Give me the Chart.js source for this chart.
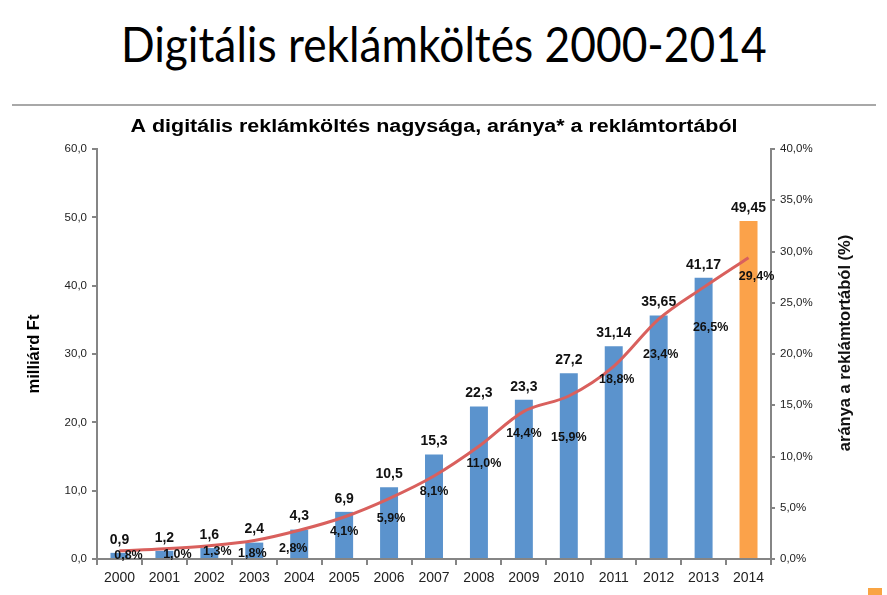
<!DOCTYPE html>
<html>
<head>
<meta charset="utf-8">
<script src="https://cdn.jsdelivr.net/npm/chart.js@4.4.1/dist/chart.umd.min.js"></script>
<style>
  html, body { margin: 0; padding: 0; background: #fff; }
  body { width: 887px; height: 595px; position: relative; overflow: hidden; }
  #page-title { position: absolute; left: 0; top: 14px; width: 887px; margin: 0; text-align: center;
    font-family: Lato, "Noto Sans", sans-serif; font-weight: 400; font-size: 48px; line-height: 60px; color: #000; }
  #page-title span { display: inline-block; transform-origin: center; white-space: nowrap; }
  .rule { position: absolute; left: 12px; top: 104px; width: 864px; height: 2px; background: #a8a8a8; }
  .corner { position: absolute; left: 868px; top: 588px; width: 14px; height: 7px; background: #f9a443; }
  #chartWrap { position: absolute; left: 0; top: 110px; width: 887px; height: 485px; }
</style>
</head>
<body>
<h1 id="page-title"><span>Digitális reklámköltés 2000-2014</span></h1>
<div class="rule"></div>
<div id="chartWrap"><canvas id="adChart" width="887" height="485"></canvas></div>
<div class="corner"></div>

<script>
// digital ad spend (billion HUF) and its share of the whole ad market (%)
const years = ['2000', '2001', '2002', '2003', '2004', '2005', '2006', '2007',
  '2008', '2009', '2010', '2011', '2012', '2013', '2014'];
const spendBn = [0.9, 1.2, 1.6, 2.4, 4.3, 6.9, 10.5, 15.3, 22.3, 23.3, 27.2, 31.14, 35.65, 41.17, 49.45];
const sharePct = [0.8, 1.0, 1.3, 1.8, 2.8, 4.1, 5.9, 8.1, 11.0, 14.4, 15.9, 18.8, 23.4, 26.5, 29.4];

const FONT = '"Liberation Sans", Arial, sans-serif';
const BLUE = '#5b93cd';
const ORANGE = '#fba24a';
const RED = '#d9605d';
const AXIS = '#858585';

const comma = v => String(v).replace('.', ',');
const pct = v => v.toFixed(1).replace('.', ',') + '%';

// squeeze the heading a bit, the original uses a condensed face
const titleSpan = document.querySelector('#page-title span');
const w = titleSpan.getBoundingClientRect().width;
if (w > 0) titleSpan.style.transform = `scaleX(${(646 / w).toFixed(3)})`;

const valueLabels = {
  id: 'valueLabels',
  afterDatasetsDraw(chart, args, opts) {
    const ctx = chart.ctx;
    const area = chart.chartArea;
    const bars = chart.getDatasetMeta(0).data;
    const points = chart.getDatasetMeta(1).data;
    ctx.save();
    ctx.fillStyle = '#111';
    ctx.textAlign = 'center';
    ctx.textBaseline = 'middle';

    ctx.font = `bold 14px ${FONT}`;
    bars.forEach((bar, i) => {
      ctx.fillText(comma(spendBn[i]), bar.x, bar.y - 13);
    });

    ctx.font = `bold 12.5px ${FONT}`;
    points.forEach((pt, i) => {
      ctx.fillText(pct(sharePct[i]), pt.x + opts.dx[i], pt.y + opts.dy[i]);
    });

    // chart title, stretched wide like the pasted excel picture
    ctx.save();
    ctx.fillStyle = '#000';
    ctx.font = `bold 17.5px ${FONT}`;
    const tw = ctx.measureText(opts.title).width;
    ctx.translate((area.left + area.right) / 2, 17);
    ctx.scale(opts.titleWidth / tw, 1);
    ctx.fillText(opts.title, 0, 0);
    ctx.restore();

    // right axis title reads bottom-to-top like the left one
    const y1 = chart.scales.y1;
    ctx.translate(y1.right - 42, (y1.top + y1.bottom) / 2 - 11);
    ctx.rotate(-Math.PI / 2);
    ctx.font = `bold 16.5px ${FONT}`;
    ctx.fillText('aránya a reklámtortából (%)', 0, 0);
    ctx.restore();
  }
};

new Chart(document.getElementById('adChart'), {
  type: 'bar',
  data: {
    labels: years,
    datasets: [
      {
        type: 'bar',
        label: 'milliárd Ft',
        data: spendBn,
        backgroundColor: years.map((y, i) => i === years.length - 1 ? ORANGE : BLUE),
        categoryPercentage: 0.8,
        barPercentage: 0.5,
        yAxisID: 'y',
        order: 2
      },
      {
        type: 'line',
        label: 'arány',
        data: sharePct,
        borderColor: RED,
        borderWidth: 3,
        pointRadius: 0,
        cubicInterpolationMode: 'monotone',
        fill: false,
        yAxisID: 'y1',
        order: 1
      }
    ]
  },
  options: {
    responsive: false,
    animation: false,
    devicePixelRatio: 1,
    layout: { padding: { top: 39, left: 0, right: 0, bottom: 0 } },
    plugins: {
      legend: { display: false },
      tooltip: { enabled: false },
      title: { display: false },
      valueLabels: {
        title: 'A digitális reklámköltés nagysága, aránya* a reklámtortából',
        titleWidth: 607,
        dx: [9, 13, 8, -2, -6, 0, 2, 0, 5, 0, 0, 3, 2, 7, 8],
        dy: [5, 6, 6, 13, 18, 15, 20, 16, 17, 22, 42, 13, 35, 40, 19]
      }
    },
    scales: {
      x: {
        grid: { display: true, drawOnChartArea: false, offset: true, color: AXIS, lineWidth: 2, tickLength: 6 },
        border: { color: AXIS, width: 2 },
        ticks: { color: '#222', font: { family: FONT, size: 14 }, padding: 5, maxRotation: 0 },
        afterFit: s => { s.height = 36; }
      },
      y: {
        position: 'left',
        min: 0,
        max: 60,
        ticks: { stepSize: 10, color: '#222', font: { family: FONT, size: 11.5 }, padding: 5,
          callback: v => v.toFixed(1).replace('.', ',') },
        grid: { drawOnChartArea: false, color: AXIS, lineWidth: 2, tickLength: 5 },
        border: { color: AXIS, width: 2 },
        title: { display: true, text: 'milliárd Ft', color: '#000',
          font: { family: FONT, size: 16.5, weight: 'bold' }, padding: { top: 25, bottom: 0 } },
        afterFit: s => { s.width = 97; }
      },
      y1: {
        position: 'right',
        min: 0,
        max: 40,
        ticks: { stepSize: 5, color: '#222', font: { family: FONT, size: 11.5 }, padding: 5,
          callback: v => v.toFixed(1).replace('.', ',') + '%' },
        grid: { drawOnChartArea: false, color: AXIS, lineWidth: 2, tickLength: 4 },
        border: { color: AXIS, width: 2 },
        afterFit: s => { s.width = 116; }
      }
    }
  },
  plugins: [valueLabels]
});
</script>
</body>
</html>
